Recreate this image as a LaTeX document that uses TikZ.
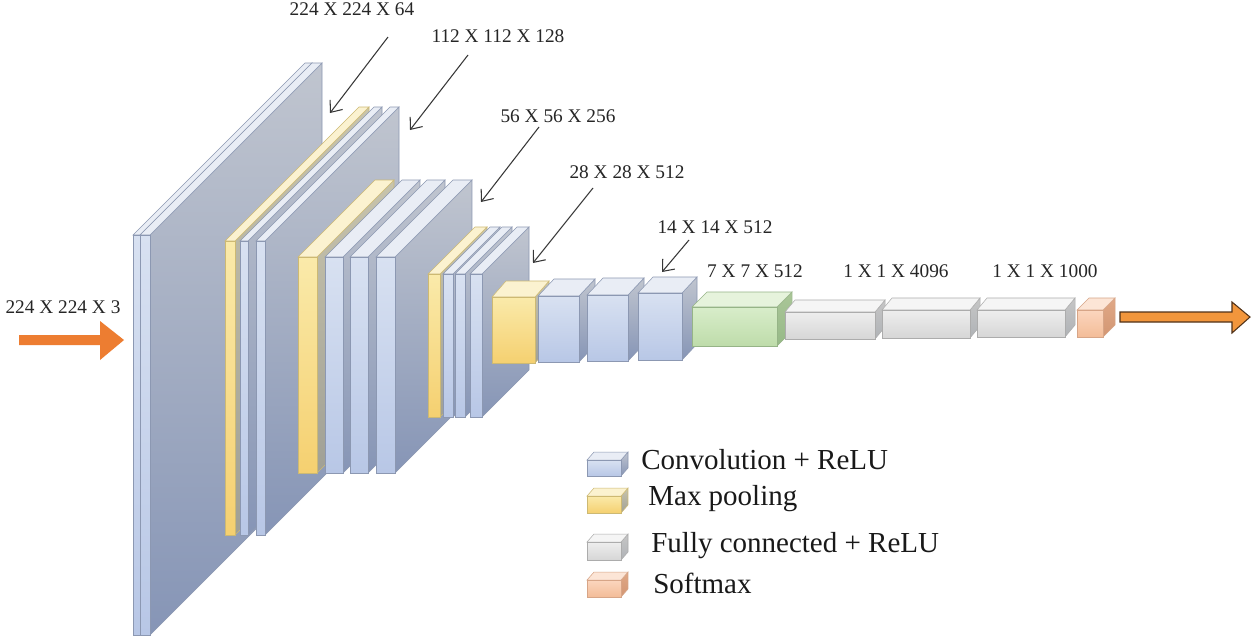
\documentclass[tikz,border=0pt]{standalone}
\usepackage{fontspec}
\setmainfont{Liberation Serif}
\usetikzlibrary{arrows.meta}

% blue (convolution)
\definecolor{cvfront1}{RGB}{216,225,241}
\definecolor{cvfront2}{RGB}{184,199,230}
\definecolor{cvtop}{RGB}{233,237,245}
\definecolor{cvside1}{RGB}{192,197,207}
\definecolor{cvside2}{RGB}{134,149,182}
\definecolor{cvedge}{RGB}{140,152,178}
% yellow (max pooling)
\definecolor{mpfront1}{RGB}{250,234,170}
\definecolor{mpfront2}{RGB}{245,208,112}
\definecolor{mptop}{RGB}{251,242,208}
\definecolor{mpside1}{RGB}{200,196,172}
\definecolor{mpside2}{RGB}{160,160,150}
\definecolor{mpedge}{RGB}{205,185,115}
% green
\definecolor{grfront1}{RGB}{216,237,202}
\definecolor{grfront2}{RGB}{190,220,170}
\definecolor{grtop}{RGB}{230,243,220}
\definecolor{grside1}{RGB}{170,198,152}
\definecolor{grside2}{RGB}{150,185,135}
\definecolor{gredge}{RGB}{150,180,135}
% gray (fully connected)
\definecolor{fcfront1}{RGB}{238,238,238}
\definecolor{fcfront2}{RGB}{214,214,214}
\definecolor{fctop}{RGB}{245,245,245}
\definecolor{fcside1}{RGB}{198,198,198}
\definecolor{fcside2}{RGB}{175,178,182}
\definecolor{fcedge}{RGB}{172,172,172}
% orange (softmax)
\definecolor{smfront1}{RGB}{251,214,190}
\definecolor{smfront2}{RGB}{243,188,152}
\definecolor{smtop}{RGB}{252,229,214}
\definecolor{smside1}{RGB}{224,168,134}
\definecolor{smside2}{RGB}{210,150,115}
\definecolor{smedge}{RGB}{215,165,135}
% arrows
\definecolor{inarrow}{RGB}{237,125,49}
\definecolor{outarrow}{RGB}{242,150,60}
\definecolor{outedge}{RGB}{80,50,25}
\definecolor{ptr}{RGB}{55,55,55}

% x1, x2, ytop, ybot, dx, dy, type
\newcommand{\prism}[7]{%
  \path[top color=#7side1, bottom color=#7side2, draw=#7edge, line width=0.3pt]
    (#2,#3) -- ({#2+#5},{#3-#6}) -- ({#2+#5},{#4-#6}) -- (#2,#4) -- cycle;
  \path[fill=#7top, draw=#7edge, line width=0.3pt]
    (#1,#3) -- (#2,#3) -- ({#2+#5},{#3-#6}) -- ({#1+#5},{#3-#6}) -- cycle;
  \path[top color=#7front1, bottom color=#7front2, draw=#7edge, line width=0.3pt]
    (#1,#3) rectangle (#2,#4);
}

\tikzset{
  lbl/.style={font=\fontsize{11}{13}\selectfont, text=black!85, inner sep=0pt, anchor=base},
  legtext/.style={font=\fontsize{16.5}{20}\selectfont, text=black!90, inner sep=0pt, anchor=base west},
  pointer/.style={draw=ptr, line width=0.6pt, -{Straight Barb[length=5.5pt,width=9pt]}}
}

\begin{document}
\begin{tikzpicture}[x=0.02cm, y=-0.02cm]
\useasboundingbox (0,0) rectangle (1256,640);
\fill[white] (0,0) rectangle (1256,640);

% input arrow
\fill[inarrow] (19,335) -- (100,335) -- (100,321) -- (124,340) -- (100,360) -- (100,345) -- (19,345) -- cycle;
\node[lbl] (lin) at (63,313) {224 X 224 X 3};

% block 1: 224x224x64
\prism{133}{140}{235}{635}{172}{172}{cv}
\prism{140}{150}{235}{635}{172}{172}{cv}

% block 2: 112x112x128
\prism{225}{235}{241}{535}{134}{134}{mp}
\prism{240}{248}{241}{535}{134}{134}{cv}
\prism{256}{265}{241}{535}{134}{134}{cv}

% block 3: 56x56x256
\prism{298}{317}{257}{473}{77}{77}{mp}
\prism{325}{343}{257}{473}{77}{77}{cv}
\prism{350}{368}{257}{473}{77}{77}{cv}
\prism{376}{395}{257}{473}{77}{77}{cv}

% block 4: 28x28x512
\prism{428}{440}{274}{417}{47}{47}{mp}
\prism{443}{453}{274}{417}{47}{47}{cv}
\prism{455}{465}{274}{417}{47}{47}{cv}
\prism{470}{482}{274}{417}{47}{47}{cv}

% block 5: 14x14x512
\prism{492}{535}{297}{363}{14}{16}{mp}
\prism{538}{579}{296}{362}{16}{17}{cv}
\prism{587}{628}{295}{361}{16}{17}{cv}
\prism{638}{682}{293}{360}{15}{16}{cv}

% 7x7x512
\prism{692}{777}{307}{346}{15}{15}{gr}

% fully connected + softmax
\prism{785}{875}{312}{339}{10}{12}{fc}
\prism{882}{970}{310}{338}{10}{12}{fc}
\prism{977}{1065}{310}{337}{10}{12}{fc}
\prism{1077}{1103}{310}{337}{12}{12}{sm}

% output arrow
\filldraw[fill=outarrow, draw=outedge, line width=0.6pt]
  (1120,312) -- (1232,312) -- (1232,302) -- (1250,317) -- (1232,333) -- (1232,322) -- (1120,322) -- cycle;

% size labels
\node[lbl] (l64)   at (352,15)  {224 X 224 X 64};
\node[lbl] (l128)  at (498,42)  {112 X 112 X 128};
\node[lbl] (l256)  at (558,122) {56 X 56 X 256};
\node[lbl] (l512a) at (627,178) {28 X 28 X 512};
\node[lbl] (l512b) at (715,233) {14 X 14 X 512};
\node[lbl] (l7)    at (755,277) {7 X 7 X 512};
\node[lbl] (l4096) at (896,277) {1 X 1 X 4096};
\node[lbl] (l1000) at (1045,277) {1 X 1 X 1000};

% pointer arrows
\coordinate (p1s) at (388,37);  \coordinate (p1e) at (330,113);
\coordinate (p2s) at (468,55);  \coordinate (p2e) at (410,130);
\coordinate (p3s) at (539,127); \coordinate (p3e) at (481,202);
\coordinate (p4s) at (593,188); \coordinate (p4e) at (533,263);
\coordinate (p5s) at (689,240); \coordinate (p5e) at (662,272);
\draw[pointer] (p1s) -- (p1e);
\draw[pointer] (p2s) -- (p2e);
\draw[pointer] (p3s) -- (p3e);
\draw[pointer] (p4s) -- (p4e);
\draw[pointer] (p5s) -- (p5e);

% legend
\prism{587}{621}{460}{476}{7}{8}{cv}
\prism{587}{621}{496}{513}{7}{8}{mp}
\prism{587}{621}{542}{560}{7}{8}{fc}
\prism{587}{621}{580}{597}{7}{8}{sm}
\node[legtext] (t1) at (641,469) {Convolution + ReLU};
\node[legtext] (t2) at (648,505) {Max pooling};
\node[legtext] (t3) at (651,552) {Fully connected + ReLU};
\node[legtext] (t4) at (653,593) {Softmax};
\end{tikzpicture}
\end{document}
